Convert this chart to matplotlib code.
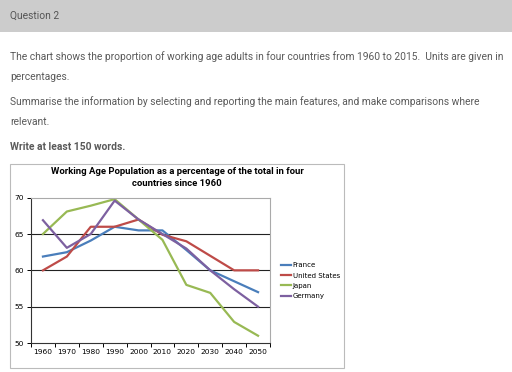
import matplotlib
matplotlib.use("Agg")
import matplotlib.pyplot as plt
from matplotlib.patches import Rectangle
from matplotlib.lines import Line2D

years = ["1960", "1970", "1980", "1990", "2000", "2010", "2020", "2030", "2040", "2050"]
france = [61.9, 62.5, 64.1, 66.0, 65.5, 65.5, 62.8, 60.0, 58.5, 57.0]
united_states = [60.0, 61.9, 66.0, 66.0, 67.0, 64.9, 64.0, 62.0, 60.0, 60.0]
japan = [65.0, 68.1, 68.9, 69.8, 67.0, 64.2, 58.0, 56.9, 52.9, 51.0]
germany = [66.9, 63.1, 65.0, 69.6, 67.0, 65.0, 63.0, 60.0, 57.4, 55.0]

series = [("France", france, "#4A7EBB"),
          ("United States", united_states, "#BE4B48"),
          ("Japan", japan, "#98B954"),
          ("Germany", germany, "#7D60A0")]

W, H = 512, 372
fig = plt.figure(figsize=(W / 100, H / 100), dpi=100)
fig.patch.set_facecolor("white")

def px(x, y):
    return x / W, 1 - y / H

# page header
fig.patches.append(Rectangle(px(0, 32), 1, 32 / H, transform=fig.transFigure,
                             facecolor="#cccccc", edgecolor="none", zorder=-5))
fig.text(*px(10, 16), "Question 2", fontsize=7.35, family="Roboto",
         color="#555555", va="center")

body = "#5a5a5a"
lines = [
    (57, "The chart shows the proportion of working age adults in four countries from 1960 to 2015.  Units are given in", "normal"),
    (77, "percentages.", "normal"),
    (102, "Summarise the information by selecting and reporting the main features, and make comparisons where", "normal"),
    (122, "relevant.", "normal"),
    (147, "Write at least 150 words.", "bold"),
]
for y, t, w in lines:
    fig.text(*px(10, y), t, fontsize=7.38, family="Roboto", color=body,
             va="center", fontweight=w)

# chart frame
fig.patches.append(Rectangle(px(10, 368), 334 / W, 204 / H, transform=fig.transFigure,
                             facecolor="white", edgecolor="#bbbbbb", lw=0.8, zorder=-5))
fig.text(*px(177, 171), "Working Age Population as a percentage of the total in four",
         fontsize=6.8, family="Roboto", fontweight="bold", ha="center", va="center",
         color="black")
fig.text(*px(177, 184), "countries since 1960",
         fontsize=6.8, family="Roboto", fontweight="bold", ha="center", va="center",
         color="black")

ax = fig.add_axes([31 / W, 1 - 343 / H, 239 / W, 145.3 / H])
ax.set_zorder(2)
ax.patch.set_alpha(0)
x = list(range(len(years)))
for name, vals, col in series:
    ax.plot(x, vals, color=col, lw=1.6, label=name)

ax.set_xlim(-0.5, len(years) - 0.5)
ax.set_ylim(50, 70)
ax.set_yticks([50, 55, 60, 65, 70])
for v in [55, 60, 65]:
    ax.axhline(v, color="#222222", lw=0.8, zorder=0)
ax.set_xticks(x)
ax.set_xticklabels(years)
ax.set_xticks([i - 0.5 for i in range(len(years) + 1)], minor=True)
ax.tick_params(axis="x", which="major", length=0, labelsize=5.4, pad=4)
ax.tick_params(axis="x", which="minor", length=3, direction="out", width=0.7)
ax.tick_params(axis="y", length=3, direction="out", width=0.7, labelsize=5.4, pad=2)
for s in ["left", "bottom"]:
    ax.spines[s].set_color("#333333")
    ax.spines[s].set_linewidth(0.8)
for s in ["top", "right"]:
    ax.spines[s].set_color("#aaaaaa")
    ax.spines[s].set_linewidth(0.8)

handles = [Line2D([], [], color=c, lw=1.6) for _, _, c in series]
fig.legend(handles, [n for n, _, _ in series], loc="upper left",
           bbox_to_anchor=px(278, 259), frameon=False, fontsize=5.0,
           handlelength=1.3, handletextpad=0.3, labelspacing=0.6, borderpad=0)

fig.savefig("out.png", dpi=100)
